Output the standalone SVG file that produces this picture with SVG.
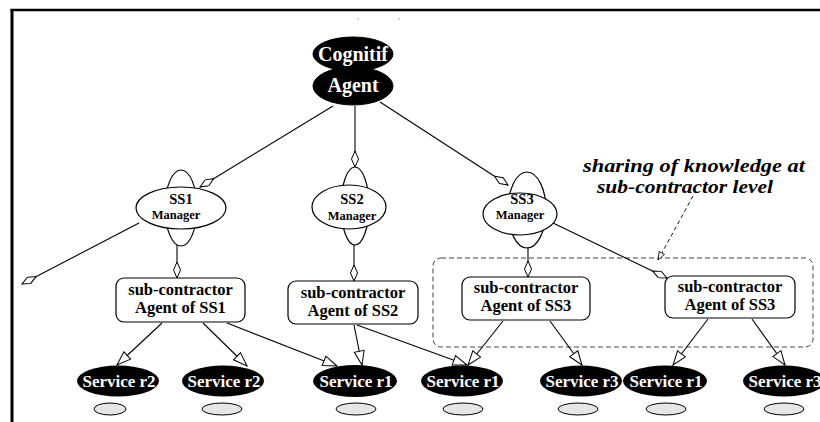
<svg xmlns="http://www.w3.org/2000/svg" width="820" height="422" viewBox="0 0 820 422">
<style>
text{font-family:'Liberation Serif','DejaVu Serif',serif;font-weight:700;text-anchor:middle}
.wt{fill:#fff}
.blk{fill:#000;stroke:#000}
.mgr{fill:#fff;stroke:#000;stroke-width:1.2}
.box{fill:#fff;stroke:#000;stroke-width:1.2}
.svc{fill:#000}
.sm{fill:#e6e6e6;stroke:#000;stroke-width:1}
.ln{stroke:#000;stroke-width:1.1;fill:none}
.dm{marker-end:url(#dia)}
.tr{marker-end:url(#tri)}
.st{font-size:17px}
.bx{font-size:16.5px}
</style>
<defs>
<marker id="dia" markerUnits="userSpaceOnUse" viewBox="0 -4 18 8" refX="17" refY="0" markerWidth="18" markerHeight="8" orient="auto">
<path d="M1,0 L9,-3.5 L17,0 L9,3.5 Z" fill="#fff" stroke="#000" stroke-width="1"/>
</marker>
<marker id="tri" markerUnits="userSpaceOnUse" viewBox="0 -6 16 12" refX="15" refY="0" markerWidth="16" markerHeight="12" orient="auto">
<path d="M1,-5 L15,0 L1,5 Z" fill="#fff" stroke="#000" stroke-width="1"/>
</marker>
<marker id="sma" markerUnits="userSpaceOnUse" viewBox="0 -4 10 8" refX="9" refY="0" markerWidth="10" markerHeight="8" orient="auto">
<path d="M1,-3 L9,0 L1,3 Z" fill="#fff" stroke="#000" stroke-width="0.8"/>
</marker>
</defs>
<rect width="820" height="422" fill="#fff"/>
<g id="frame">
<line x1="10.5" y1="10" x2="820" y2="10" stroke="#000" stroke-width="2.5"/>
<line x1="12" y1="9" x2="12" y2="422" stroke="#000" stroke-width="3"/>
<rect x="357.5" y="18.5" width="1" height="1" fill="#666"/>
<rect x="398.5" y="18.5" width="1" height="1" fill="#666"/>
</g>
<g id="sharing-region">
<rect x="433" y="258" width="380" height="89" rx="8" fill="none" stroke="#444" stroke-width="1" stroke-dasharray="5 3"/>
</g>
<g id="cognitif-agent">
<ellipse cx="353" cy="54" rx="40" ry="17" class="blk"/>
<ellipse cx="353" cy="86" rx="40" ry="19" class="blk"/>
<text x="353" y="61" class="wt" font-size="20">Cognitif</text>
<text x="353" y="92" class="wt" font-size="20">Agent</text>
</g>
<g id="ss1-manager">
<ellipse cx="181" cy="208" rx="16" ry="38" class="mgr"/>
<ellipse cx="181" cy="208" rx="45" ry="21" class="mgr"/>
<text x="181" y="204" font-size="14.5">SS1</text>
<text x="176" y="219" font-size="12.5">Manager</text>
</g>
<g id="ss2-manager">
<ellipse cx="355" cy="206" rx="14" ry="39" class="mgr"/>
<ellipse cx="349" cy="207" rx="37" ry="22" class="mgr"/>
<text x="352" y="204" font-size="14.5">SS2</text>
<text x="352" y="220" font-size="12.5">Manager</text>
</g>
<g id="ss3-manager">
<ellipse cx="527" cy="210" rx="19" ry="38" class="mgr"/>
<ellipse cx="520" cy="214" rx="37" ry="21" class="mgr"/>
<text x="522" y="204" font-size="14.5">SS3</text>
<text x="520" y="219" font-size="12.5">Manager</text>
</g>
<g id="subcontractor-ss1">
<rect x="116" y="278" width="129" height="44" rx="8" class="box"/>
<text x="180.5" y="295" class="bx">sub-contractor</text>
<text x="180.5" y="313" class="bx">Agent of SS1</text>
</g>
<g id="subcontractor-ss2">
<rect x="288" y="281" width="130" height="43" rx="8" class="box"/>
<text x="353" y="298" class="bx">sub-contractor</text>
<text x="353" y="316" class="bx">Agent of SS2</text>
</g>
<g id="subcontractor-ss3a">
<rect x="462" y="277" width="128" height="43" rx="8" class="box"/>
<text x="526" y="293" class="bx">sub-contractor</text>
<text x="526" y="311" class="bx">Agent of SS3</text>
</g>
<g id="subcontractor-ss3b">
<rect x="665" y="276" width="130" height="42" rx="8" class="box"/>
<text x="730" y="292" class="bx">sub-contractor</text>
<text x="730" y="310" class="bx">Agent of SS3</text>
</g>
<g id="service-r2-a">
<ellipse cx="118" cy="381" rx="41" ry="15.5" class="svc"/>
<text x="119" y="387" class="wt st">Service r2</text>
<ellipse cx="110" cy="409" rx="16" ry="6" class="sm"/>
</g>
<g id="service-r2-b">
<ellipse cx="223" cy="381" rx="41" ry="15.5" class="svc"/>
<text x="224" y="387" class="wt st">Service r2</text>
<ellipse cx="222" cy="409" rx="20" ry="6" class="sm"/>
</g>
<g id="service-r1-a">
<ellipse cx="355" cy="381" rx="42" ry="16" class="svc"/>
<text x="356" y="387" class="wt st">Service r1</text>
<ellipse cx="356" cy="409" rx="20" ry="6" class="sm"/>
</g>
<g id="service-r1-b">
<ellipse cx="462" cy="381" rx="41" ry="15.5" class="svc"/>
<text x="463" y="387" class="wt st">Service r1</text>
<ellipse cx="463" cy="409" rx="20" ry="6" class="sm"/>
</g>
<g id="service-r3-a">
<ellipse cx="581" cy="381" rx="41" ry="15.5" class="svc"/>
<text x="582" y="387" class="wt st">Service r3</text>
<ellipse cx="578" cy="409" rx="20" ry="6" class="sm"/>
</g>
<g id="service-r1-c">
<ellipse cx="665" cy="381" rx="42" ry="15.5" class="svc"/>
<text x="666" y="387" class="wt st">Service r1</text>
<ellipse cx="666" cy="409" rx="20" ry="6" class="sm"/>
</g>
<g id="service-r3-b">
<ellipse cx="784" cy="381" rx="41" ry="15.5" class="svc"/>
<text x="785" y="387" class="wt st">Service r3</text>
<ellipse cx="784" cy="409" rx="20" ry="6" class="sm"/>
</g>
<g id="annotation">
<text x="694" y="172" font-size="19" font-style="italic" textLength="222" lengthAdjust="spacingAndGlyphs">sharing of knowledge at</text>
<text x="685" y="193" font-size="19" font-style="italic" textLength="176" lengthAdjust="spacingAndGlyphs">sub-contractor level</text>
</g>
<g id="connectors">
<line x1="333" y1="106" x2="200" y2="187" class="ln dm"/>
<line x1="355" y1="106" x2="355" y2="167" class="ln dm"/>
<line x1="380" y1="102" x2="508" y2="185" class="ln dm"/>
<line x1="139" y1="223" x2="22" y2="284" class="ln dm"/>
<line x1="177" y1="245" x2="177" y2="278" class="ln dm"/>
<line x1="354" y1="245" x2="354" y2="281" class="ln dm"/>
<line x1="528" y1="247" x2="528" y2="277" class="ln dm"/>
<line x1="553" y1="223" x2="667" y2="278" class="ln dm"/>
<line x1="162" y1="323" x2="117" y2="365" class="ln tr"/>
<line x1="203" y1="323" x2="247" y2="366" class="ln tr"/>
<line x1="227" y1="323" x2="337" y2="366" class="ln tr"/>
<line x1="354" y1="325" x2="362" y2="365" class="ln tr"/>
<line x1="357" y1="325" x2="467" y2="365" class="ln tr"/>
<line x1="503" y1="321" x2="468" y2="365" class="ln tr"/>
<line x1="550" y1="321" x2="582" y2="365" class="ln tr"/>
<line x1="708" y1="319" x2="673" y2="365" class="ln tr"/>
<line x1="752" y1="319" x2="785" y2="365" class="ln tr"/>
<line x1="693" y1="196" x2="658" y2="260" stroke="#000" stroke-width="0.9" stroke-dasharray="4 3" marker-end="url(#sma)"/>
</g>
</svg>
